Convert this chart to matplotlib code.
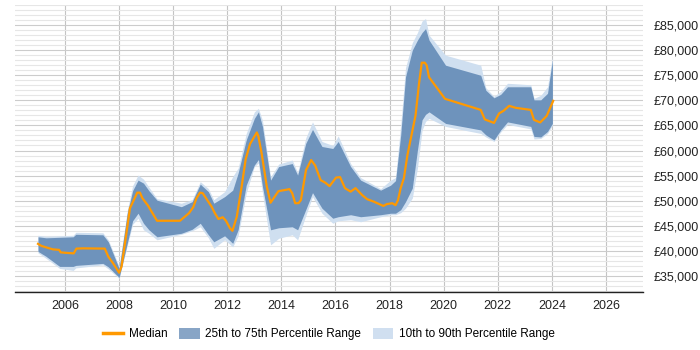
import matplotlib
matplotlib.use("Agg")
import matplotlib.pyplot as plt
import matplotlib.patches as mpatches
import matplotlib.lines as mlines
from matplotlib.ticker import MultipleLocator, FuncFormatter
import numpy as np

plt.rcParams['font.family'] = ['Liberation Sans', 'DejaVu Sans']

# Median series (decimal year, GBP thousands)
median_t = [2005.0, 2005.12, 2005.3, 2005.55, 2005.78, 2005.84, 2006.05, 2006.32, 2006.42, 2006.67,
            2007.47, 2007.6, 2007.78, 2008.0, 2008.09, 2008.25, 2008.4, 2008.54, 2008.67, 2008.77,
            2008.86, 2009.07, 2009.4, 2010.25, 2010.58, 2010.74, 2010.86, 2010.99, 2011.09, 2011.42,
            2011.54, 2011.67, 2011.83, 2011.95, 2012.1, 2012.19, 2012.35, 2012.53, 2012.68, 2012.84,
            2013.09, 2013.15, 2013.27, 2013.46, 2013.6, 2013.89, 2014.3, 2014.4, 2014.51, 2014.63,
            2014.72, 2014.91, 2015.1, 2015.25, 2015.45, 2015.62, 2015.78, 2016.02, 2016.17, 2016.35,
            2016.56, 2016.74, 2016.99, 2017.17, 2017.42, 2017.77, 2017.89, 2018.1, 2018.22, 2018.31,
            2018.41, 2018.53, 2018.66, 2018.96, 2019.09, 2019.19, 2019.3, 2019.37, 2019.46, 2020.05,
            2021.37, 2021.52, 2021.86, 2022.05, 2022.21, 2022.42, 2022.67, 2023.22, 2023.34, 2023.57,
            2023.81, 2024.05]
median_v = [41.4, 41.0, 40.7, 40.3, 40.2, 39.7, 39.6, 39.5, 40.45, 40.5,
            40.45, 38.85, 37.5, 35.65, 36.9, 42.8, 48.5, 50.1, 51.6, 51.6,
            50.5, 49.0, 46.0, 46.0, 47.5, 48.7, 50.5, 51.6, 51.5, 48.8,
            47.5, 46.35, 46.7, 46.0, 44.5, 44.0, 46.8, 52.8, 58.3, 61.3,
            63.6, 62.8, 59.4, 52.8, 49.6, 51.9, 52.3, 51.5, 49.5, 49.5,
            50.1, 56.1, 58.1, 57.0, 54.1, 53.6, 52.9, 54.6, 54.7, 52.5,
            51.8, 52.5, 51.1, 50.3, 49.8, 48.95, 49.3, 49.5, 49.1, 50.1,
            52.5, 54.5, 59.1, 67.0, 73.4, 77.5, 77.5, 77.0, 74.6, 70.3,
            68.1, 66.2, 65.5, 67.4, 67.9, 68.9, 68.5, 68.1, 66.1, 65.6,
            66.9, 69.9]

# Percentile bands (decimal year, GBP thousands)
band_t = [2005.0, 2005.3, 2005.8, 2006.3, 2006.4, 2007.4, 2007.6, 2008.0, 2008.3, 2008.5,
          2008.7, 2008.9, 2009.1, 2009.4, 2010.3, 2010.7, 2011.0, 2011.3, 2011.5, 2011.9,
          2012.2, 2012.4, 2012.7, 2013.0, 2013.15, 2013.3, 2013.6, 2013.9, 2014.4, 2014.6,
          2014.9, 2015.15, 2015.5, 2015.9, 2016.1, 2016.56, 2016.93, 2017.67, 2018.04, 2018.22,
          2018.41, 2018.59, 2018.84, 2019.03, 2019.2, 2019.33, 2019.46, 2020.07, 2021.37, 2021.56,
          2021.86, 2022.11, 2022.36, 2023.22, 2023.34, 2023.59, 2023.84, 2024.02]
p25 = [39.9, 38.9, 36.9, 36.9, 37.1, 37.5, 36.8, 34.7, 41.5, 46.0,
       47.5, 45.5, 44.2, 42.8, 43.5, 44.3, 45.5, 43.2, 41.8, 43.0,
       41.5, 44.2, 53.1, 57.1, 58.2, 52.8, 44.2, 44.6, 44.8, 44.2,
       48.2, 51.6, 48.5, 46.5, 46.8, 47.2, 46.8, 47.2, 47.5, 47.5,
       48.2, 49.8, 52.5, 60.1, 66.1, 67.2, 67.7, 65.4, 64.1, 63.1,
       62.1, 64.1, 65.7, 64.8, 62.8, 62.7, 63.8, 65.4]
p75 = [42.8, 42.6, 42.7, 42.8, 43.3, 43.2, 41.8, 36.5, 47.5, 52.0,
       54.1, 53.5, 52.0, 50.1, 48.8, 49.8, 53.3, 51.8, 49.5, 50.8,
       52.1, 55.5, 62.1, 66.4, 67.7, 64.8, 54.1, 56.8, 57.4, 55.1,
       61.4, 64.2, 60.8, 60.4, 61.8, 56.8, 54.1, 52.1, 53.1, 54.0,
       63.0, 74.7, 80.0, 82.0, 83.5, 84.3, 82.0, 77.0, 75.0, 72.0,
       70.5, 71.2, 72.7, 72.7, 70.1, 70.1, 71.4, 78.0]
p10 = [39.6, 38.5, 36.5, 36.1, 36.6, 37.2, 36.4, 34.5, 41.0, 45.3,
       46.5, 44.2, 43.5, 42.2, 43.3, 44.0, 44.8, 42.6, 40.5, 42.2,
       40.8, 43.0, 51.5, 56.8, 57.5, 51.5, 41.2, 42.5, 43.2, 42.2,
       47.0, 50.8, 47.5, 45.5, 46.0, 46.2, 45.8, 46.8, 47.2, 47.2,
       47.6, 48.5, 50.5, 56.5, 64.0, 65.8, 66.4, 64.8, 63.4, 62.7,
       61.8, 63.7, 65.2, 64.3, 62.3, 62.4, 63.4, 65.0]
p90 = [43.1, 42.9, 43.0, 43.1, 43.7, 43.6, 42.2, 36.9, 48.0, 53.0,
       55.1, 54.3, 52.7, 50.4, 49.5, 50.2, 53.8, 52.4, 50.2, 51.8,
       54.8, 56.5, 63.4, 67.7, 68.4, 66.0, 54.8, 57.3, 58.1, 55.6,
       62.5, 65.7, 61.8, 61.0, 62.9, 57.4, 54.6, 52.4, 54.1, 54.6,
       65.0, 76.5, 81.5, 83.5, 85.8, 86.3, 83.0, 79.0, 77.0, 72.5,
       70.8, 71.8, 73.4, 73.1, 70.4, 71.0, 72.7, 78.6]

dark = '#6e93bc'
light = '#cfdff0'
orange = '#ff9900'

fig = plt.figure(figsize=(7, 3.5), dpi=100)
ax = fig.add_axes([15/700, 1 - 292/350, (643 - 15)/700, (292 - 5)/350])

bt = np.array(band_t)
k = 1000.0
ax.fill_between(bt, np.array(p10) * k, np.array(p90) * k, color=light, lw=0, zorder=2)
ax.fill_between(bt, np.array(p25) * k, np.array(p75) * k, color=dark, lw=0, zorder=3)
ax.plot(median_t, np.array(median_v) * k, color=orange, lw=1.6, zorder=4)

ax.set_xlim(2004.15, 2027.37)
ax.set_ylim(31800, 89000)

ax.xaxis.set_major_locator(MultipleLocator(2))
ax.yaxis.set_major_locator(MultipleLocator(5000))
ax.yaxis.set_minor_locator(MultipleLocator(1000))
ax.yaxis.set_major_formatter(FuncFormatter(lambda v, p: '£{:,.0f}'.format(v)))
ax.yaxis.tick_right()
ax.tick_params(axis='y', which='both', length=0, labelsize=9, pad=8, colors='#222222')
ax.tick_params(axis='x', length=0, labelsize=9, pad=6, colors='#222222')

ax.grid(True, axis='y', which='major', color='#cccccc', lw=0.8, zorder=0)
ax.grid(True, axis='y', which='minor', color='#e6e6e6', lw=0.8, zorder=0)
ax.grid(True, axis='x', which='major', color='#c4c4c4', lw=0.8, zorder=0)
ax.set_axisbelow(True)
for s in ['left', 'right', 'top']:
    ax.spines[s].set_visible(False)
ax.spines['bottom'].set_color('#222222')
ax.spines['bottom'].set_linewidth(1.0)

handles = [mlines.Line2D([], [], color=orange, lw=2.5),
           mpatches.Patch(color='#88a5c6', lw=0),
           mpatches.Patch(color='#d0dff0', lw=0)]
labels = ['Median', '25th to 75th Percentile Range', '10th to 90th Percentile Range']
fig.legend(handles, labels, loc='center', bbox_to_anchor=(329/700, 1 - 334/350), ncol=3,
           frameon=False, fontsize=8.5, handlelength=1.7, handleheight=1.1, columnspacing=1.0,
           handletextpad=0.5)

fig.savefig('out.png', dpi=100)
